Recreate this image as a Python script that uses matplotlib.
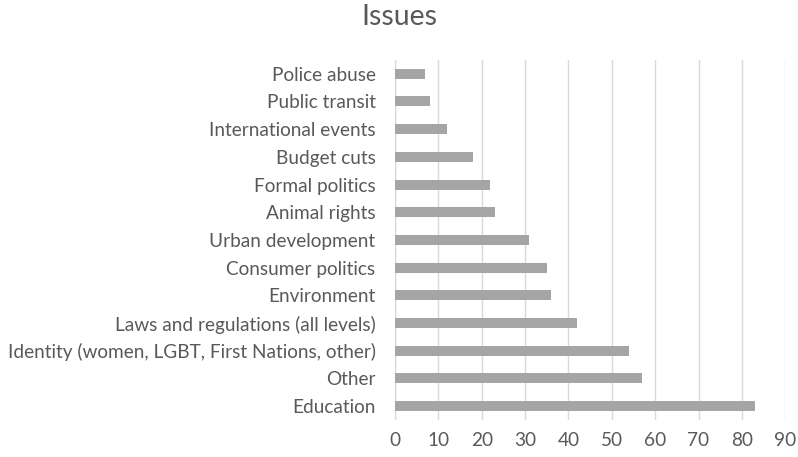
import matplotlib.pyplot as plt

issues = [
    "Education",
    "Other",
    "Identity (women, LGBT, First Nations, other)",
    "Laws and regulations (all levels)",
    "Environment",
    "Consumer politics",
    "Urban development",
    "Animal rights",
    "Formal politics",
    "Budget cuts",
    "International events",
    "Public transit",
    "Police abuse",
]
counts = [83, 57, 54, 42, 36, 35, 31, 23, 22, 18, 12, 8, 7]
xticks = list(range(0, 100, 10))

plt.rcParams["font.family"] = ["Lato", "DejaVu Sans"]

TEXT = "#595959"

fig = plt.figure(figsize=(7.98, 4.57), dpi=100)
ax = fig.add_axes([0.495, 0.081, 0.489, 0.788])

ax.barh(range(len(issues)), counts, height=0.36, color="#a5a5a5", zorder=3)

ax.set_xlim(0, 90)
ax.set_ylim(-0.5, len(issues) - 0.5)
ax.set_xticks(xticks)
ax.set_yticks(range(len(issues)))
ax.set_yticklabels(issues)

ax.grid(axis="x", color="#d9d9d9", lw=1, zorder=0)
for s in ax.spines.values():
    s.set_visible(False)
ax.axvline(0, color="#d9d9d9", lw=1, zorder=1)

ax.tick_params(axis="both", length=0, labelsize=13.7, colors=TEXT)
ax.tick_params(axis="x", pad=9)
ax.tick_params(axis="y", pad=14)

fig.text(0.5, 0.962, "Issues", ha="center", va="center", fontsize=20.5, color=TEXT)

fig.savefig("out.png", dpi=100)
